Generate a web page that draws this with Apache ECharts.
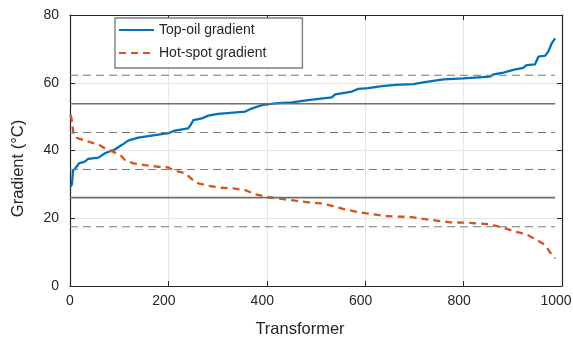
<!DOCTYPE html>
<html>
<head>
<meta charset="utf-8">
<script src="https://cdn.jsdelivr.net/npm/echarts@6/dist/echarts.min.js"></script>
<style>
  html, body { margin: 0; padding: 0; background: #ffffff; }
  #chart { width: 573px; height: 342px; }
</style>
</head>
<body>
<div id="chart"></div>
<script>
// Sorted gradients per transformer (index on x, gradient in °C on y)
const topOilX = [1, 4, 6, 10, 15, 18, 30, 37, 58, 71, 91, 105, 118, 139, 166, 200, 213, 240, 245, 251, 268, 281, 301, 332, 356, 366, 390, 417, 451, 484, 532, 539, 573, 586, 606, 634, 661, 698, 718, 759, 799, 854, 861, 881, 901, 921, 928, 945, 952, 966, 972, 979, 986];
const topOilY = [29.3, 30.0, 34.0, 34.6, 35.5, 36.2, 36.7, 37.5, 37.9, 39.2, 40.3, 41.6, 42.9, 43.8, 44.4, 45.1, 45.9, 46.5, 47.5, 49.0, 49.5, 50.3, 50.8, 51.2, 51.5, 52.2, 53.4, 53.9, 54.2, 54.9, 55.7, 56.6, 57.4, 58.2, 58.4, 59.0, 59.4, 59.6, 60.1, 61.0, 61.3, 61.8, 62.5, 63.0, 63.8, 64.4, 65.2, 65.4, 67.7, 68.0, 69.2, 71.6, 73.1];

const hotSpotX = [1, 3, 5, 7, 10, 17, 44, 58, 71, 88, 102, 112, 129, 152, 179, 200, 210, 234, 247, 261, 281, 308, 332, 356, 376, 403, 430, 457, 484, 511, 535, 559, 586, 610, 637, 664, 691, 718, 745, 772, 799, 827, 854, 881, 901, 925, 949, 966, 979, 986];
const hotSpotY = [50.5, 49.5, 47.5, 45.0, 44.0, 43.6, 42.3, 41.8, 40.6, 39.6, 38.7, 37.2, 36.2, 35.7, 35.2, 35.0, 34.2, 33.3, 31.6, 30.3, 29.6, 29.0, 28.8, 28.3, 27.1, 26.2, 25.7, 25.2, 24.7, 24.4, 23.6, 22.6, 21.8, 21.3, 20.7, 20.5, 20.4, 19.8, 19.3, 18.8, 18.7, 18.5, 18.2, 17.2, 16.2, 15.4, 13.6, 12.1, 9.2, 8.2];

// Mean levels (solid) and mean ± one standard deviation (dashed)
const meanLevels = [53.8, 26.1];
const spreadLevels = [62.2, 45.3, 34.4, 17.5];
const transformerCount = 986;

const xTicks = [0, 200, 400, 600, 800, 1000];
const yTicks = [0, 20, 40, 60, 80];

const seriesNames = ['Top-oil gradient', 'Hot-spot gradient'];

const FONT = 'Liberation Sans, Arial, Helvetica, sans-serif';
const INK = '#262626';

const zip = (xs, ys) => xs.map((x, i) => [x, ys[i]]);

const levelSeries = (levels, solid) => levels.map((v, i) => ({
  name: (solid ? 'mean-' : 'spread-') + i,
  type: 'line',
  data: [[0, v], [transformerCount, v]],
  symbol: 'none',
  silent: true,
  z: 5,
  lineStyle: solid
    ? { color: '#6f6f6f', width: 1.6, type: 'solid' }
    : { color: '#7a7a7a', width: 1.1, type: [8, 5] }
}));

const axisBox = { show: true, onZero: false, lineStyle: { color: INK, width: 1.2 } };
const innerTick = { show: true, inside: true, length: 5, lineStyle: { color: INK, width: 1 } };

const chart = echarts.init(document.getElementById('chart'), null, { renderer: 'canvas' });

chart.setOption({
  animation: false,
  backgroundColor: '#ffffff',
  textStyle: { fontFamily: FONT },
  grid: {
    left: 70, right: 11, top: 15, bottom: 56,
    containLabel: false,
    outerBoundsMode: 'none'
  },
  legend: {
    data: seriesNames,
    orient: 'vertical',
    left: 115,
    top: 18,
    padding: [5, 36, 8, 3],
    itemWidth: 35,
    itemHeight: 14,
    itemGap: 9,
    itemStyle: { opacity: 0 },
    backgroundColor: '#ffffff',
    borderColor: '#7f7f7f',
    borderWidth: 1.4,
    borderRadius: 0,
    textStyle: { fontFamily: FONT, fontSize: 14, color: INK, lineHeight: 14 },
    z: 20
  },
  xAxis: [
    {
      type: 'value',
      position: 'bottom',
      min: xTicks[0],
      max: xTicks[xTicks.length - 1],
      interval: xTicks[1] - xTicks[0],
      name: 'Transformer',
      nameLocation: 'middle',
      nameGap: 35,
      nameTextStyle: { fontFamily: FONT, fontSize: 16.5, color: INK, padding: [0, 32, 0, 0] },
      axisLine: axisBox,
      axisTick: innerTick,
      splitLine: { show: true, lineStyle: { color: '#e6e6e6', width: 1 } },
      axisLabel: {
        margin: 8,
        fontFamily: FONT,
        fontSize: 14,
        color: INK,
        formatter: v => v === 0 ? '0' : (v === 1000 ? '{e|' + v + '}' : '{m|' + v + '}'),
        rich: {
          m: { fontFamily: FONT, fontSize: 14, color: INK, padding: [0, 9, 0, 0] },
          e: { fontFamily: FONT, fontSize: 14, color: INK, padding: [0, 12, 0, 0] }
        }
      }
    },
    {
      type: 'value',
      position: 'top',
      min: xTicks[0],
      max: xTicks[xTicks.length - 1],
      interval: xTicks[1] - xTicks[0],
      axisLine: axisBox,
      axisTick: innerTick,
      axisLabel: { show: false },
      splitLine: { show: false }
    }
  ],
  yAxis: [
    {
      type: 'value',
      position: 'left',
      min: yTicks[0],
      max: yTicks[yTicks.length - 1],
      interval: yTicks[1] - yTicks[0],
      name: 'Gradient (°C)',
      nameLocation: 'middle',
      nameGap: 43,
      nameTextStyle: { fontFamily: FONT, fontSize: 16.5, color: INK, padding: [0, 36, 0, 0] },
      axisLine: axisBox,
      axisTick: innerTick,
      splitLine: { show: true, lineStyle: { color: '#e6e6e6', width: 1 } },
      axisLabel: {
        margin: 11,
        fontFamily: FONT,
        fontSize: 14,
        color: INK,
        padding: [0, 0, 7, 0]
      }
    },
    {
      type: 'value',
      position: 'right',
      min: yTicks[0],
      max: yTicks[yTicks.length - 1],
      interval: yTicks[1] - yTicks[0],
      axisLine: axisBox,
      axisTick: innerTick,
      axisLabel: { show: false },
      splitLine: { show: false }
    }
  ],
  series: [
    {
      name: seriesNames[0],
      type: 'line',
      data: zip(topOilX, topOilY),
      symbol: 'none',
      z: 3,
      color: '#0072BD',
      lineStyle: { color: '#0072BD', width: 2.3 }
    },
    {
      name: seriesNames[1],
      type: 'line',
      data: zip(hotSpotX, hotSpotY),
      symbol: 'none',
      z: 3,
      color: '#D95319',
      lineStyle: { color: '#D95319', width: 2.3, type: [7, 5] }
    }
  ].concat(levelSeries(meanLevels, true), levelSeries(spreadLevels, false))
});
</script>
</body>
</html>
